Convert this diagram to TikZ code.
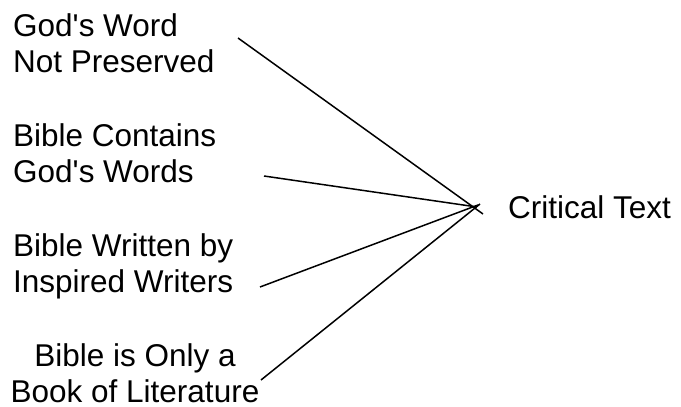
\documentclass[tikz,border=0pt]{standalone}
\usepackage{fontspec}
\setmainfont{Liberation Sans}[Ligatures=TeXOff]

\begin{document}
\begin{tikzpicture}[x=1pt,y=-1pt,
  lbl/.style={anchor=base west,align=left,inner sep=0pt,font=\fontsize{31.5}{36}\selectfont},
  lnk/.style={draw=black,line width=1.5pt}]
  \useasboundingbox (0,0) rectangle (681,407);
  % the four views on the left (base = last line)
  \node[lbl] (word) at (13,72) {God's Word\\Not Preserved};
  \node[lbl] (contains) at (13,182) {Bible Contains\\God's Words};
  \node[lbl] (inspired) at (13,292) {Bible Written by\\Inspired Writers};
  \node[lbl,align=center,anchor=base] (literature) at (135,402) {Bible is Only a\\Book of Literature};
  \node[lbl] (crit) at (508,218) {Critical Text};
  % free ends of the lines
  \coordinate (wordEnd) at (238,38);
  \coordinate (containsEnd) at (264,176);
  \coordinate (inspiredEnd) at (260,287);
  \coordinate (literatureEnd) at (261,380);
  % where the lines meet
  \coordinate (hubA) at (483,214);
  \coordinate (hubB) at (477,207);
  \coordinate (hubC) at (478,205);
  \coordinate (hubD) at (480,204);
  \draw[lnk] (wordEnd) -- (hubA);
  \draw[lnk] (containsEnd) -- (hubB);
  \draw[lnk] (inspiredEnd) -- (hubC);
  \draw[lnk] (literatureEnd) -- (hubD);
\end{tikzpicture}
\end{document}
